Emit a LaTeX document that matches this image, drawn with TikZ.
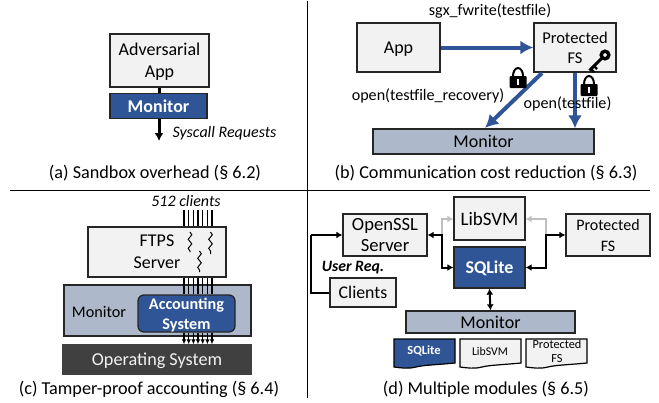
\documentclass[tikz,border=0pt]{standalone}
\usepackage{fontspec}
\setmainfont{Carlito}
\usetikzlibrary{decorations.pathmorphing,arrows.meta,calc}

\definecolor{boxgray}{HTML}{F2F2F2}
\definecolor{modblue}{HTML}{2F5597}
\definecolor{monblue}{HTML}{ADB9CA}
\definecolor{osgray}{HTML}{404040}
\definecolor{linegray}{HTML}{BFBFBF}

\tikzset{
  sysbox/.style={draw=black!85,line width=1.3pt,fill=boxgray,align=center,inner sep=0pt,text depth=-2pt,font=\fontsize{18}{22}\selectfont},
  bluebox/.style={sysbox,fill=modblue,text=white,font=\fontsize{18}{22}\selectfont\bfseries},
  monbar/.style={sysbox,fill=monblue,font=\fontsize{18}{22}\selectfont},
  capt/.style={font=\fontsize{18.2}{20}\selectfont},
  lbl/.style={font=\fontsize{16.1}{18}\selectfont},
  ital/.style={font=\fontsize{16}{18}\selectfont\itshape},
  blueline/.style={-{Latex[length=13pt,width=14pt]},draw=modblue,line width=4pt},
  blackline/.style={{Latex[length=6pt,width=7pt]}-{Latex[length=6pt,width=7pt]},line width=2pt},
  grayline/.style={-{Latex[length=6pt,width=7pt]},draw=linegray,line width=2pt},
}

% lock icon
\newcommand{\lockicon}[1]{
  \draw [line width=2pt] ($(#1)+(-5,0)$) arc (180:360:5 and 8);
  \fill [black,rounded corners=1pt] ($(#1)+(-8.5,0)$) rectangle ($(#1)+(8.5,12)$);
  \fill [white] ($(#1)+(-1.4,3)$) rectangle ($(#1)+(1.4,9)$);
}

% page with a wavy lower edge
\newcommand{\docpage}[3]{
  \draw [line width=1.2pt,fill=#3] (#1,#2) -- (#1+61,#2) -- (#1+61,#2+24)
    .. controls (#1+40,#2+26) and (#1+30,#2+26) .. (#1+22,#2+28)
    .. controls (#1+14,#2+30) and (#1+8,#2+29) .. (#1,#2+28) -- cycle;
}

\begin{document}
\begin{tikzpicture}[x=1pt,y=-1pt,semithick]
\useasboundingbox (0,0) rectangle (659,402);

\node (divv) [coordinate] at (307,1) {};
\node (divvend) [coordinate] at (307,398) {};
\node (divh) [coordinate] at (10,190) {};
\node (divhend) [coordinate] at (650,190) {};
\draw [line width=1pt] (divv) -- (divvend);
\draw [line width=1pt] (divh) -- (divhend);

%(a)
\node (adv) at (159.5,60.5) [sysbox,minimum width=99pt,minimum height=53pt] {Adversarial\\App};
\node (mona) at (158.5,106) [bluebox,minimum width=97pt,minimum height=25pt] {Monitor};
\node (sysend) [coordinate] at (159,141) {};
\draw [line width=3pt] (adv.south -| sysend) -- (mona.north -| sysend);
\draw [-{Latex[length=8pt,width=9pt]},line width=3pt] (mona.south -| sysend) -- (sysend);
\node (sysreq) at (224.5,133) [ital] {Syscall Requests};
\node (capa) at (155,173) [capt] {(a) Sandbox overhead (§ 6.2)};

%(b)
\node (app) at (398.5,47.5) [sysbox,minimum width=83pt,minimum height=49pt] {App};
\node (pfs) at (575,47.5) [sysbox,minimum width=82pt,minimum height=49pt,font=\fontsize{16.5}{20}\selectfont] {Protected\\FS};
\node (monb) at (483.5,141.5) [monbar,minimum width=221pt,minimum height=25pt] {Monitor};
\node (fsout) [coordinate] at (542,73) {};
\node (monin) [coordinate] at (485,128) {};
\draw [blueline] (app.east) -- (pfs.west);
\draw [blueline] (fsout) -- (monin);
\draw [blueline] (pfs.south) -- (pfs.south |- monb.north);
\node (fwrite) at (490,11) [lbl] {sgx\_fwrite(testfile)};
\node (recov) at (428,96) [lbl] {open(testfile\_recovery)};
\node (openf) at (567.5,104) [lbl] {open(testfile)};
\node (locka) [coordinate] at (518,76) {};
\node (lockb) [coordinate] at (589,84) {};
\lockicon{locka}
\lockicon{lockb}
% key
\node (keyc) [coordinate] at (605,55) {};
\draw [line width=3.4pt] (keyc) circle (3.8);
\draw [line width=3pt] (keyc) ++(-2.5,2.5) -- ++(-13,13);
\draw [line width=2.4pt] (keyc) ++(-11,11) -- ++(3,3);
\draw [line width=2.4pt] (keyc) ++(-14,14) -- ++(3,3);
\node (capb) at (486,173) [capt] {(b) Communication cost reduction (§ 6.3)};

%(c)
\node (ftps) at (157,252) [sysbox,minimum width=138pt,minimum height=50pt] {FTPS\\Server};
\node (monc) at (157.5,310.5) [sysbox,fill=monblue,minimum width=187pt,minimum height=51pt] {};
\node (acct) at (186.5,313.5) [bluebox,rounded corners=6pt,minimum width=97pt,minimum height=37pt,font=\fontsize{16.2}{20}\selectfont\bfseries] {Accounting\\System};
\node (os) at (157,359.5) [sysbox,fill=osgray,draw=osgray,text=boxgray,minimum width=188pt,minimum height=29pt,font=\fontsize{18.2}{20}\selectfont] {Operating System};
\node (monlbl) at (99,312) [font=\fontsize{16.2}{18}\selectfont] {Monitor};
\foreach \x [count=\i] in {184,188.7,193.4,198,202.7,207.4,212} {
  \coordinate (cli\i) at (\x,210);
  \draw [line width=1.3pt] (cli\i) -- (cli\i |- ftps.north);
  \draw [line width=1.3pt] (cli\i |- ftps.south) -- (cli\i |- acct.north);
  \draw [-{Latex[length=5pt,width=4.5pt]},line width=1.3pt] (cli\i |- acct.south) -- (cli\i |- os.north);
}
\node (clients) at (186,201) [ital] {512 clients};
\foreach \x/\y/\e in {190/232/252,210.5/232/254,199.5/251/272} {
  \draw [decorate,decoration={snake,amplitude=1.8pt,segment length=9pt},line width=1pt] (\x,\y) -- (\x,\e);
}
\node (capc) at (149,389.5) [capt] {(c) Tamper-proof accounting (§ 6.4)};

%(d)
\node (ossl) at (385,235) [sysbox,minimum width=84pt,minimum height=42pt,font=\fontsize{18.6}{21}\selectfont] {OpenSSL\\Server};
\node (svm) at (489.5,218.5) [sysbox,minimum width=71pt,minimum height=43pt,font=\fontsize{19}{21}\selectfont] {LibSVM};
\node (sql) at (489.5,267.5) [bluebox,minimum width=71pt,minimum height=41pt] {SQLite};
\node (pfsd) at (608,235) [sysbox,minimum width=84pt,minimum height=42pt,font=\fontsize{16}{21}\selectfont] {Protected\\FS};
\node (cli) at (363,292.5) [sysbox,minimum width=66pt,minimum height=29pt,font=\fontsize{17.8}{21}\selectfont] {Clients};
\node (mond) at (490.5,322) [monbar,minimum width=169pt,minimum height=22pt] {Monitor};
\node (userreq) at (353,268) [font=\fontsize{15.8}{18}\selectfont\bfseries\itshape] {User Req.};

\node (leftb) [coordinate] at (311,292.5) {};
\node (leftt) [coordinate] at (311,235) {};
\node (bendl) [coordinate] at (442,235) {};
\node (bendr) [coordinate] at (546,235) {};
\draw [grayline] (bendl) |- (svm.west |- 0,219);
\draw [grayline] (bendr) |- (svm.east |- 0,219);
\draw [line width=2pt] (cli.west) -- (leftb) -- (leftt);
\draw [-{Latex[length=6pt,width=7pt]},line width=2pt] (leftt) -- (ossl.west);
\draw [blackline] (ossl.east) -- (bendl) |- (sql.west);
\draw [blackline] (pfsd.west) -- (bendr) |- (sql.east);
\draw [blackline] (sql.south) -- (mond.north);

\docpage{394}{339}{modblue}
\docpage{460}{339}{boxgray}
\docpage{526}{339}{boxgray}
\node (doca) at (424,351) [font=\fontsize{12.5}{14}\selectfont\bfseries,text=white] {SQLite};
\node (docb) at (490,351) [font=\fontsize{11.8}{14}\selectfont] {LibSVM};
\node (docc) at (557,351.5) [align=center,font=\fontsize{12.3}{14}\selectfont] {Protected\\FS};
\node (capd) at (486,389.5) [capt] {(d) Multiple modules (§ 6.5)};

\end{tikzpicture}
\end{document}
